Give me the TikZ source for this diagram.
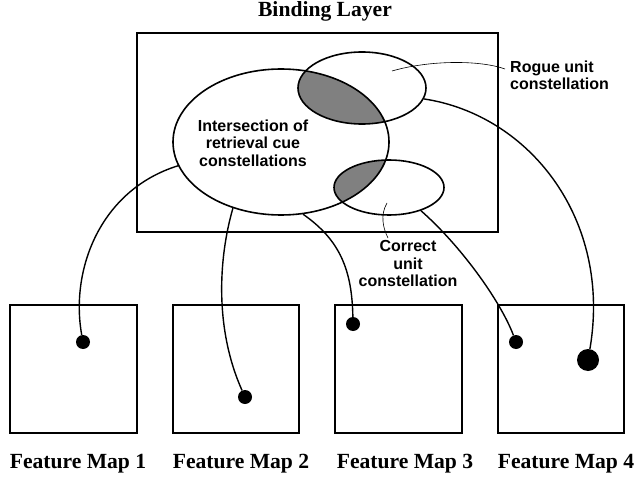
\documentclass[tikz,border=0pt]{standalone}
\usepackage{fontspec}
\setmainfont{Liberation Serif}
\newfontfamily\labelsans{Liberation Sans}
\usetikzlibrary{shapes.geometric}

\begin{document}
\begin{tikzpicture}[x=1pt,y=-1pt,
  frame/.style={draw, line width=1.8pt, rectangle, inner sep=0pt, outer sep=0pt},
  ell/.style={draw, ellipse, line width=1.6pt, inner sep=0pt},
  link/.style={line width=1.4pt},
  leader/.style={line width=0.6pt},
  dot/.style={circle, fill=black, inner sep=0pt, minimum size=14pt},
  bigdot/.style={dot, minimum size=22pt},
  caption/.style={font=\bfseries\fontsize{21.6}{24}\selectfont, inner sep=0pt, anchor=base},
  note/.style={font=\labelsans\bfseries\fontsize{16}{17.5}\selectfont, inner sep=0pt},
  overlap/.style={fill=black!50}
]
\useasboundingbox (0,0) rectangle (636,478);

% binding layer frame and title
\node[frame, minimum width=361pt, minimum height=199pt] (layer) at (317.5,132.5) {};
\node[caption] (title) at (325,16.5) {Binding Layer};

% shaded overlaps of the unit constellations
\begin{scope}
  \clip (281,142) ellipse [x radius=108pt, y radius=73pt];
  \fill[overlap] (362,88) ellipse [x radius=64pt, y radius=36pt];
  \fill[overlap] (389,187.5) ellipse [x radius=55pt, y radius=27.5pt];
\end{scope}

% constellations
\node[ell, minimum width=216pt, minimum height=146pt] (cues) at (281,142) {};
\node[ell, minimum width=128pt, minimum height=72pt] (rogue) at (362,88) {};
\node[ell, minimum width=110pt, minimum height=55pt] (correct) at (389,187.5) {};

\node[note, align=center, anchor=north] (cuelab) at (253,119.5)
  {Intersection of\\retrieval cue\\constellations};
\node[note, align=left, anchor=north west] (roguelab) at (510,60.5)
  {Rogue unit\\constellation};
\node[note, align=center, anchor=north] (correctlab) at (408,240.5)
  {Correct\\unit\\constellation};

% leader lines to the labels
\coordinate (roguein) at (392,71);
\coordinate (rogueend) at (505,69);
\coordinate (correctin) at (387,203);
\coordinate (correctend) at (388,238);
\draw[leader] (roguein) .. controls (430,60) and (480,60) .. (rogueend);
\draw[leader] (correctin) .. controls (380,215) and (383,228) .. (correctend);

% feature maps
\node[frame, minimum width=127pt, minimum height=128pt] (map1) at (73.5,369) {};
\node[frame, minimum width=126pt, minimum height=128pt] (map2) at (236,369) {};
\node[frame, minimum width=127pt, minimum height=128pt] (map3) at (398.5,369) {};
\node[frame, minimum width=126pt, minimum height=128pt] (map4) at (561,369) {};

\node[caption] (cap1) at (78,468) {Feature Map 1};
\node[caption] (cap2) at (241,468) {Feature Map 2};
\node[caption] (cap3) at (405,468) {Feature Map 3};
\node[caption] (cap4) at (566,468) {Feature Map 4};

% feature units
\node[dot] (u1) at (83,342) {};
\node[dot] (u2) at (245,397) {};
\node[dot] (u3) at (353,324) {};
\node[dot] (u4) at (516,342) {};
\node[bigdot] (u5) at (588,360) {};

% bindings from constellations to feature units
\draw[link] (cues.193) .. controls (100,190) and (70,270) .. (u1);
\draw[link] (cues.234.5) .. controls (218,260) and (215,330) .. (u2);
\draw[link] (cues.287) .. controls (340,240) and (352,270) .. (u3);
\draw[link] (correct.324.5) .. controls (460,245) and (500,300) .. (u4);
\draw[link] (rogue.350) .. controls (530,115) and (612,220) .. (u5);
\end{tikzpicture}
\end{document}
